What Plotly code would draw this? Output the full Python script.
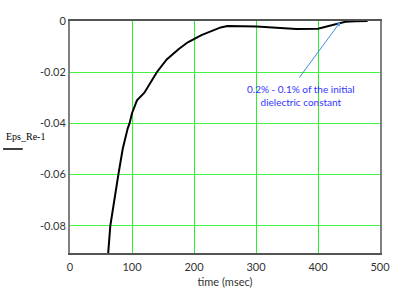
import plotly.graph_objects as go

time_ms = [61, 65, 78, 85, 93, 96, 100, 108, 120, 140, 156, 175, 190, 204, 212,
           243, 254, 301, 328, 365, 400, 418, 439, 444, 460, 480]
eps_re_minus_1 = [-0.0925, -0.080, -0.060, -0.050, -0.042, -0.040, -0.036, -0.031,
                  -0.028, -0.020, -0.015, -0.011, -0.0083, -0.0064, -0.0055,
                  -0.0025, -0.0020, -0.0021, -0.0025, -0.0031, -0.0030, -0.0019,
                  -0.0006, -0.0003, -0.0001, 0.0]

x_ticks = [0, 100, 200, 300, 400, 500]
y_ticks = [0, -0.02, -0.04, -0.06, -0.08]
y_tick_labels = ["0", "-0.02", "-0.04", "-0.06", "-0.08"]

note_lines = ["0.2% - 0.1% of the initial", "dielectric constant"]

fig = go.Figure()
fig.add_trace(go.Scatter(x=time_ms, y=eps_re_minus_1, mode="lines",
                         line=dict(color="black", width=2), showlegend=False,
                         cliponaxis=True, hoverinfo="skip"))

font = dict(family="Lato, Open Sans, sans-serif", size=11, color="#333333")

L, R, T, B = 70, 385, 21, 253
W, H = R - L, B - T

fig.update_layout(
    width=402, height=301,
    margin=dict(l=L, r=402 - R, t=T, b=301 - B),
    paper_bgcolor="white", plot_bgcolor="white",
    font=font,
    xaxis=dict(range=[0, 500], tickvals=x_ticks, showgrid=True,
               gridcolor="#2cf02c", gridwidth=1, zeroline=False,
               showline=True, linecolor="#555555", linewidth=2, mirror=True,
               ticks="", tickfont=font, ticklabelstandoff=3,
               title=dict(text="time (msec)", font=font, standoff=6)),
    yaxis=dict(range=[-0.0906, 0], tickvals=y_ticks, ticktext=y_tick_labels,
               showgrid=True, gridcolor="#44f444", gridwidth=1, zeroline=False,
               showline=True, linecolor="#808080", linewidth=2, mirror=True,
               ticks="", tickfont=font),
)

# annotation text
fig.add_annotation(x=373, y=-0.0289, xref="x", yref="y",
                   text="<br>".join(note_lines), showarrow=False,
                   font=dict(family="Lato, Open Sans, sans-serif", size=10, color="#3535ff"),
                   align="center")
# arrow
fig.add_annotation(x=436, y=-0.0004, xref="x", yref="y",
                   ax=368, ay=-0.0227, axref="x", ayref="y",
                   text="", showarrow=True, arrowhead=2, arrowsize=0.8,
                   arrowwidth=1, arrowcolor="#3c8ddc")

# y-axis label in Mathcad style (paper coords relative to plot area)
fig.add_annotation(x=(3 - L) / W, y=(B - 136) / H, xref="paper", yref="paper",
                   text="Eps_Re-1", showarrow=False, xanchor="left", yanchor="middle",
                   font=dict(family="Liberation Serif, DejaVu Serif, serif", size=10, color="black"))
fig.add_shape(type="line", xref="paper", yref="paper",
              x0=(2 - L) / W, x1=(22 - L) / W, y0=(B - 149) / H, y1=(B - 149) / H,
              line=dict(color="black", width=1.5))

fig.write_html("out.html", config={"displayModeBar": False},
               post_script="document.body.style.margin='0px';")
